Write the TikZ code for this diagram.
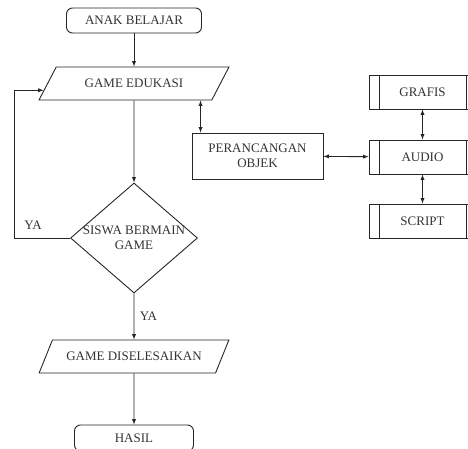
\documentclass[tikz,border=0pt]{standalone}
\usepackage{fontspec}
\setmainfont{Liberation Serif}
\usetikzlibrary{shapes.geometric,calc}
\tikzset{
    base/.style={draw=black!85, line width=0.9pt, text=black!80, font=\fontsize{13}{14.5}\selectfont, align=center},
    term/.style={base, rounded corners=6pt, minimum height=25pt},
    io/.style={base, trapezium, trapezium left angle=53, trapezium right angle=127, trapezium stretches=true, minimum width=190pt, minimum height=33pt},
    decision/.style={base, diamond, minimum width=127pt, minimum height=110pt, inner sep=0pt},
    proc/.style={base, minimum width=131pt, minimum height=46pt},
    subproc/.style={base, minimum width=107pt, minimum height=34pt,
        path picture={\draw[black!85, line width=0.9pt] ([xshift=10pt]path picture bounding box.north west) -- ([xshift=10pt]path picture bounding box.south west) ([xshift=-10pt]path picture bounding box.north east) -- ([xshift=-10pt]path picture bounding box.south east);}},
    lbl/.style={text=black!80, font=\fontsize{13}{14.5}\selectfont},
    line/.style={draw=black!85, line width=0.9pt}
}
\begin{document}
\begin{tikzpicture}[x=1pt,y=-1pt]
    \useasboundingbox (0,0) rectangle (468,449);
    \node[term, minimum width=135pt] (start) at (134,20.5) {ANAK BELAJAR};
    \node[io] (game) at (134,83.5) {GAME EDUKASI};
    \node[decision] (cek) at (134,238) {};
    \node[base, draw=none] (cektext) at (cek) {SISWA BERMAIN\\GAME};
    \node[io] (selesai) at (134,356.5) {GAME DISELESAIKAN};
    \node[term, minimum width=119pt, minimum height=26pt] (hasil) at (134,438) {HASIL};
    \node[proc] (objek) at (257.5,156) {PERANCANGAN\\OBJEK};
    \node[subproc] (grafis) at (422.5,92) {GRAFIS};
    \node[subproc] (audio) at (422.5,157) {AUDIO};
    \node[subproc] (script) at (422.5,221) {SCRIPT};
    \draw[line,-latex] (start) -- (game);
    \draw[line,-latex] (game) -- (cek);
    \draw[line,-latex] (cek.west) -- node[lbl, above=5pt, pos=0.66] (ya1) {YA} ++(-56,0) |- ($(game.bottom left corner)!0.3!(game.top left corner)$);
    \draw[line,-latex] (cek) -- node[lbl, right=2pt, pos=0.5] (ya2) {YA} (selesai);
    \draw[line,-latex] (selesai) -- (hasil);
    \draw[line,latex-latex] ([xshift=9pt]objek.north west |- game.south) -- ([xshift=9pt]objek.north west);
    \draw[line,latex-latex] (objek) -- (audio);
    \draw[line,latex-latex] (grafis) -- (audio);
    \draw[line,latex-latex] (audio) -- (script);
\end{tikzpicture}
\end{document}
